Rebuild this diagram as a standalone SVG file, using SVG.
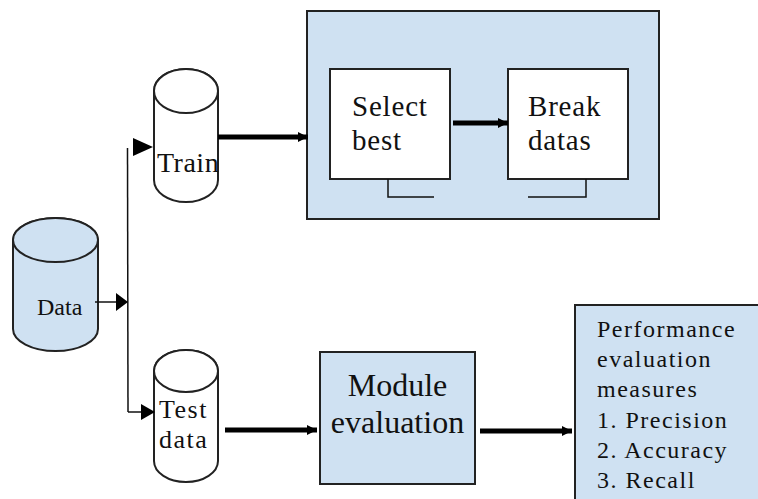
<svg xmlns="http://www.w3.org/2000/svg" width="758" height="499" viewBox="0 0 758 499">
<defs>
<style>
.t{font-family:'Liberation Serif','DejaVu Serif','Times New Roman',serif;fill:#111}
.blue{fill:#cfe1f2;stroke:#222;stroke-width:2}
.white{fill:#fff;stroke:#222;stroke-width:2}
.thin{fill:none;stroke:#111;stroke-width:1.5}
.thick{fill:none;stroke:#000;stroke-width:5}
</style>
<marker id="ah2" viewBox="0 0 10 10" refX="10" refY="5" markerWidth="2" markerHeight="2" orient="auto" markerUnits="strokeWidth"><path d="M0,0 L10,5 L0,10 Z" fill="#000"/></marker>
</defs>
<rect width="758" height="499" fill="#fff"/>

<g id="data">
<path class="blue" d="M13,240 L13,329 A42.5,22 0 0 0 98,329 L98,240 A42.5,22 0 0 0 13,240 Z"/>
<ellipse class="blue" cx="55.5" cy="240" rx="42.5" ry="22"/>
<text class="t" x="37" y="315" font-size="24" font-family="Liberation Serif, DejaVu Serif, serif">Data</text>
</g>

<g id="train">
<path class="white" d="M154,91 L154,180 A32,22 0 0 0 218,180 L218,91 A32,22 0 0 0 154,91 Z"/>
<ellipse class="white" cx="186" cy="91" rx="32" ry="22"/>
<text class="t" x="157" y="172" font-size="28" letter-spacing="0.5" font-family="Liberation Serif, DejaVu Serif, serif">Train</text>
</g>

<g id="testdata">
<path class="white" d="M154,371 L154,461 A32,21 0 0 0 218,461 L218,371 A32,21 0 0 0 154,371 Z"/>
<ellipse class="white" cx="186" cy="371" rx="32" ry="21"/>
<text class="t" x="159" y="418" font-size="26" letter-spacing="1.5" font-family="Liberation Serif, DejaVu Serif, serif">Test</text>
<text class="t" x="159" y="448" font-size="26" letter-spacing="1.5" font-family="Liberation Serif, DejaVu Serif, serif">data</text>
</g>

<g id="container">
<rect class="blue" x="307" y="11" width="352" height="208"/>
</g>

<g id="selectbest">
<rect class="white" x="330" y="69" width="120" height="110"/>
<text class="t" x="352" y="116" font-size="29" letter-spacing="0.8" font-family="Liberation Serif, DejaVu Serif, serif">Select</text>
<text class="t" x="352" y="150" font-size="29" letter-spacing="0.8" font-family="Liberation Serif, DejaVu Serif, serif">best</text>
<path class="thin" d="M388,179 L388,197 L434,197"/>
</g>

<g id="breakdatas">
<rect class="white" x="508" y="69" width="120" height="110"/>
<text class="t" x="528" y="116" font-size="29" letter-spacing="0.8" font-family="Liberation Serif, DejaVu Serif, serif">Break</text>
<text class="t" x="528" y="150" font-size="29" letter-spacing="0.8" font-family="Liberation Serif, DejaVu Serif, serif">datas</text>
<path class="thin" d="M586,179 L586,197 L528,197"/>
</g>

<g id="module">
<rect class="blue" x="320" y="352" width="155" height="132"/>
<text class="t" x="397.5" y="396" font-size="32" text-anchor="middle" font-family="Liberation Serif, DejaVu Serif, serif">Module</text>
<text class="t" x="397.5" y="433" font-size="32" text-anchor="middle" font-family="Liberation Serif, DejaVu Serif, serif">evaluation</text>
</g>

<g id="performance">
<rect class="blue" x="575" y="305" width="200" height="220"/>
<text class="t" font-size="24" letter-spacing="1.5" font-family="Liberation Serif, DejaVu Serif, serif">
<tspan x="597" y="337">Performance</tspan>
<tspan x="597" y="367">evaluation</tspan>
<tspan x="597" y="397">measures</tspan>
<tspan x="597" y="428">1. Precision</tspan>
<tspan x="597" y="458">2. Accuracy</tspan>
<tspan x="597" y="488">3. Recall</tspan>
</text>
</g>

<g id="connectors">
<path class="thin" d="M127.5,148 L128,412"/>
<path class="thin" d="M95,302 L118,302"/>
<path d="M116,293 L128,302 L116,311 Z" fill="#000"/>
<path d="M133,138 L153,147 L133,156 Z" fill="#000"/>
<path class="thin" d="M128,412 L145,412"/>
<path d="M141,404 L155,412 L141,420 Z" fill="#000"/>
<path class="thick" d="M218,137 L308,137" marker-end="url(#ah2)"/>
<path class="thick" d="M453,123 L508,123" marker-end="url(#ah2)"/>
<path class="thick" d="M225,430 L317,430" marker-end="url(#ah2)"/>
<path class="thick" d="M480,431 L572,431" marker-end="url(#ah2)"/>
</g>
</svg>
